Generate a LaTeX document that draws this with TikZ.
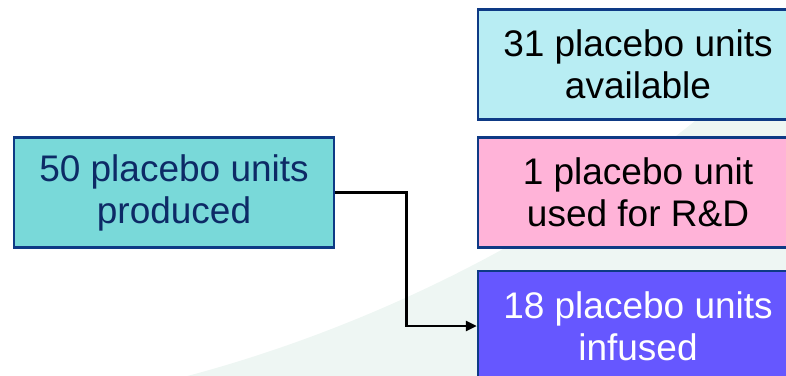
\documentclass[tikz,border=0pt]{standalone}
\usepackage{fontspec}
\setmainfont{Liberation Sans}
\usetikzlibrary{arrows.meta}
\definecolor{edgenavy}{HTML}{0E3A85}
\definecolor{textnavy}{HTML}{0D2A66}
\definecolor{producedfill}{HTML}{79D9D9}
\definecolor{availfill}{HTML}{B8EDF3}
\definecolor{rdfill}{HTML}{FFB3D8}
\definecolor{infusedfill}{HTML}{6657FF}
\definecolor{swoosh}{HTML}{EEF6F3}
\tikzset{
  unitbox/.style={draw=edgenavy, line width=2.5pt, rectangle,
    minimum width=320pt, minimum height=110pt, inner sep=0pt,
    align=center, font=\fontsize{37}{42}\selectfont},
  flowline/.style={draw=black, line width=2.6pt,
    -{Triangle[length=11pt,width=10pt]}}
}
\begin{document}
\begin{tikzpicture}[x=1pt,y=-1pt]
  \useasboundingbox (0,0) rectangle (786,375);
  \clip (0,0) rectangle (786,375);
  % pale background swoosh
  \fill[swoosh] (172,380) .. controls (330,340) and (520,260) .. (690,125)
    .. controls (740,85) and (780,45) .. (800,20) -- (800,380) -- cycle;
  % boxes
  \node[unitbox, fill=producedfill, text=textnavy] (produced) at (174,192.5)
    {50 placebo units\\produced};
  \node[unitbox, fill=availfill, text=black] (available) at (638,64.5)
    {31 placebo units\\available};
  \node[unitbox, fill=rdfill, text=black] (rd) at (638,192.5)
    {1 placebo unit\\used for R\&D};
  \node[unitbox, fill=infusedfill, text=white] (infused) at (638,326)
    {18 placebo units\\infused};
  % connector
  \draw[flowline] (produced.east) -- ++(71,0) |- (infused.west);
\end{tikzpicture}
\end{document}
